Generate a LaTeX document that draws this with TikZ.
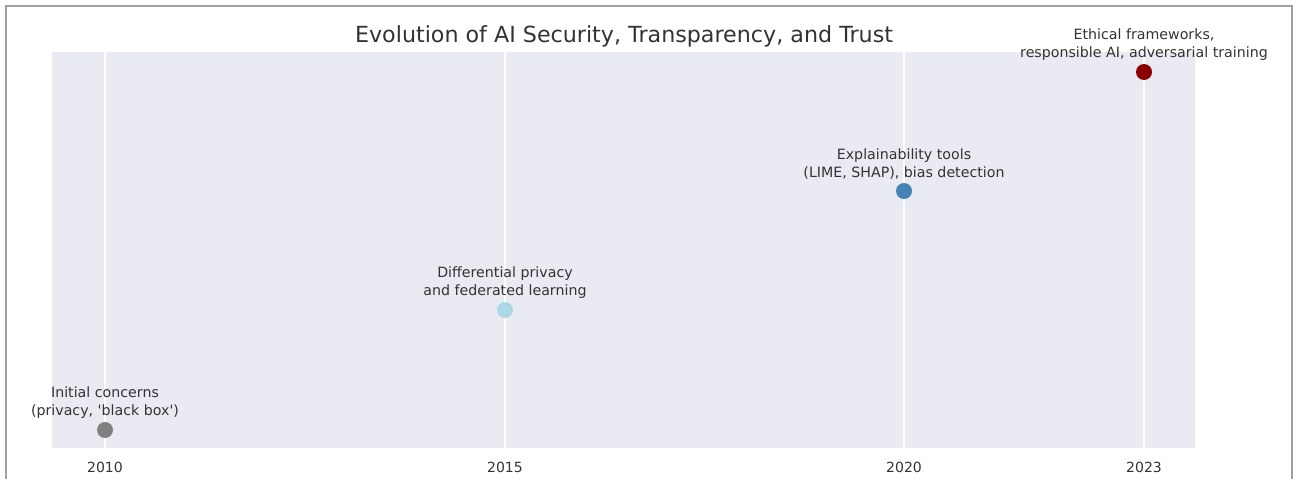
\documentclass[tikz,border=0pt]{standalone}
\usepackage{fontspec}
\setmainfont{DejaVu Sans}
\definecolor{panel}{HTML}{EAEAF2}
\definecolor{frame}{HTML}{A0A0A0}
\definecolor{txt}{HTML}{333333}
\definecolor{c2010}{HTML}{808080}
\definecolor{c2015}{HTML}{ADD8E6}
\definecolor{c2020}{HTML}{4682B4}
\definecolor{c2023}{HTML}{8B0000}
\tikzset{
  dot/.style={circle, inner sep=0pt, minimum size=16pt, draw=none},
  ann/.style={align=center, text=txt, font=\fontsize{14.2}{18.5}\selectfont, inner sep=0pt, anchor=south},
  tick/.style={text=txt, font=\fontsize{14}{16}\selectfont, inner sep=0pt},
  grid/.style={white, line width=1.6pt}
}
\begin{document}
\begin{tikzpicture}[x=1pt, y=-1pt]
\useasboundingbox (0,0) rectangle (1293,479);
\fill[white] (0,0) rectangle (1293,479);
% frame (cropped at bottom)
\draw[frame, line width=1.2pt] (6,479) -- (6,6) -- (1292,6) -- (1292,479);
% panel
\fill[panel] (52,52) rectangle (1195,448);
% grid lines
\foreach \gx in {105,505,904,1144} \draw[grid] (\gx,52) -- (\gx,448);
% title
\node[text=txt, font=\fontsize{22.2}{25}\selectfont, inner sep=0pt] (title) at (624,36.5) {Evolution of AI Security, Transparency, and Trust};
% markers
\node[dot, fill=c2010] (p2010) at (105,430) {};
\node[dot, fill=c2015] (p2015) at (505,310) {};
\node[dot, fill=c2020] (p2020) at (904,191) {};
\node[dot, fill=c2023] (p2023) at (1144,72) {};
% annotations
\node[ann] (a2010) at (105,419) {Initial concerns\\(privacy, \textquotesingle black box\textquotesingle)};
\node[ann] (a2015) at (505,299) {Differential privacy\\and federated learning};
\node[ann] (a2020) at (904,180) {Explainability tools\\(LIME, SHAP), bias detection};
\node[ann] (a2023) at (1144,61) {Ethical frameworks,\\responsible AI, adversarial training};
% ticks
\node[tick] (t2010) at (105,467) {2010};
\node[tick] (t2015) at (505,467) {2015};
\node[tick] (t2020) at (904,467) {2020};
\node[tick] (t2023) at (1144,467) {2023};
\end{tikzpicture}
\end{document}
